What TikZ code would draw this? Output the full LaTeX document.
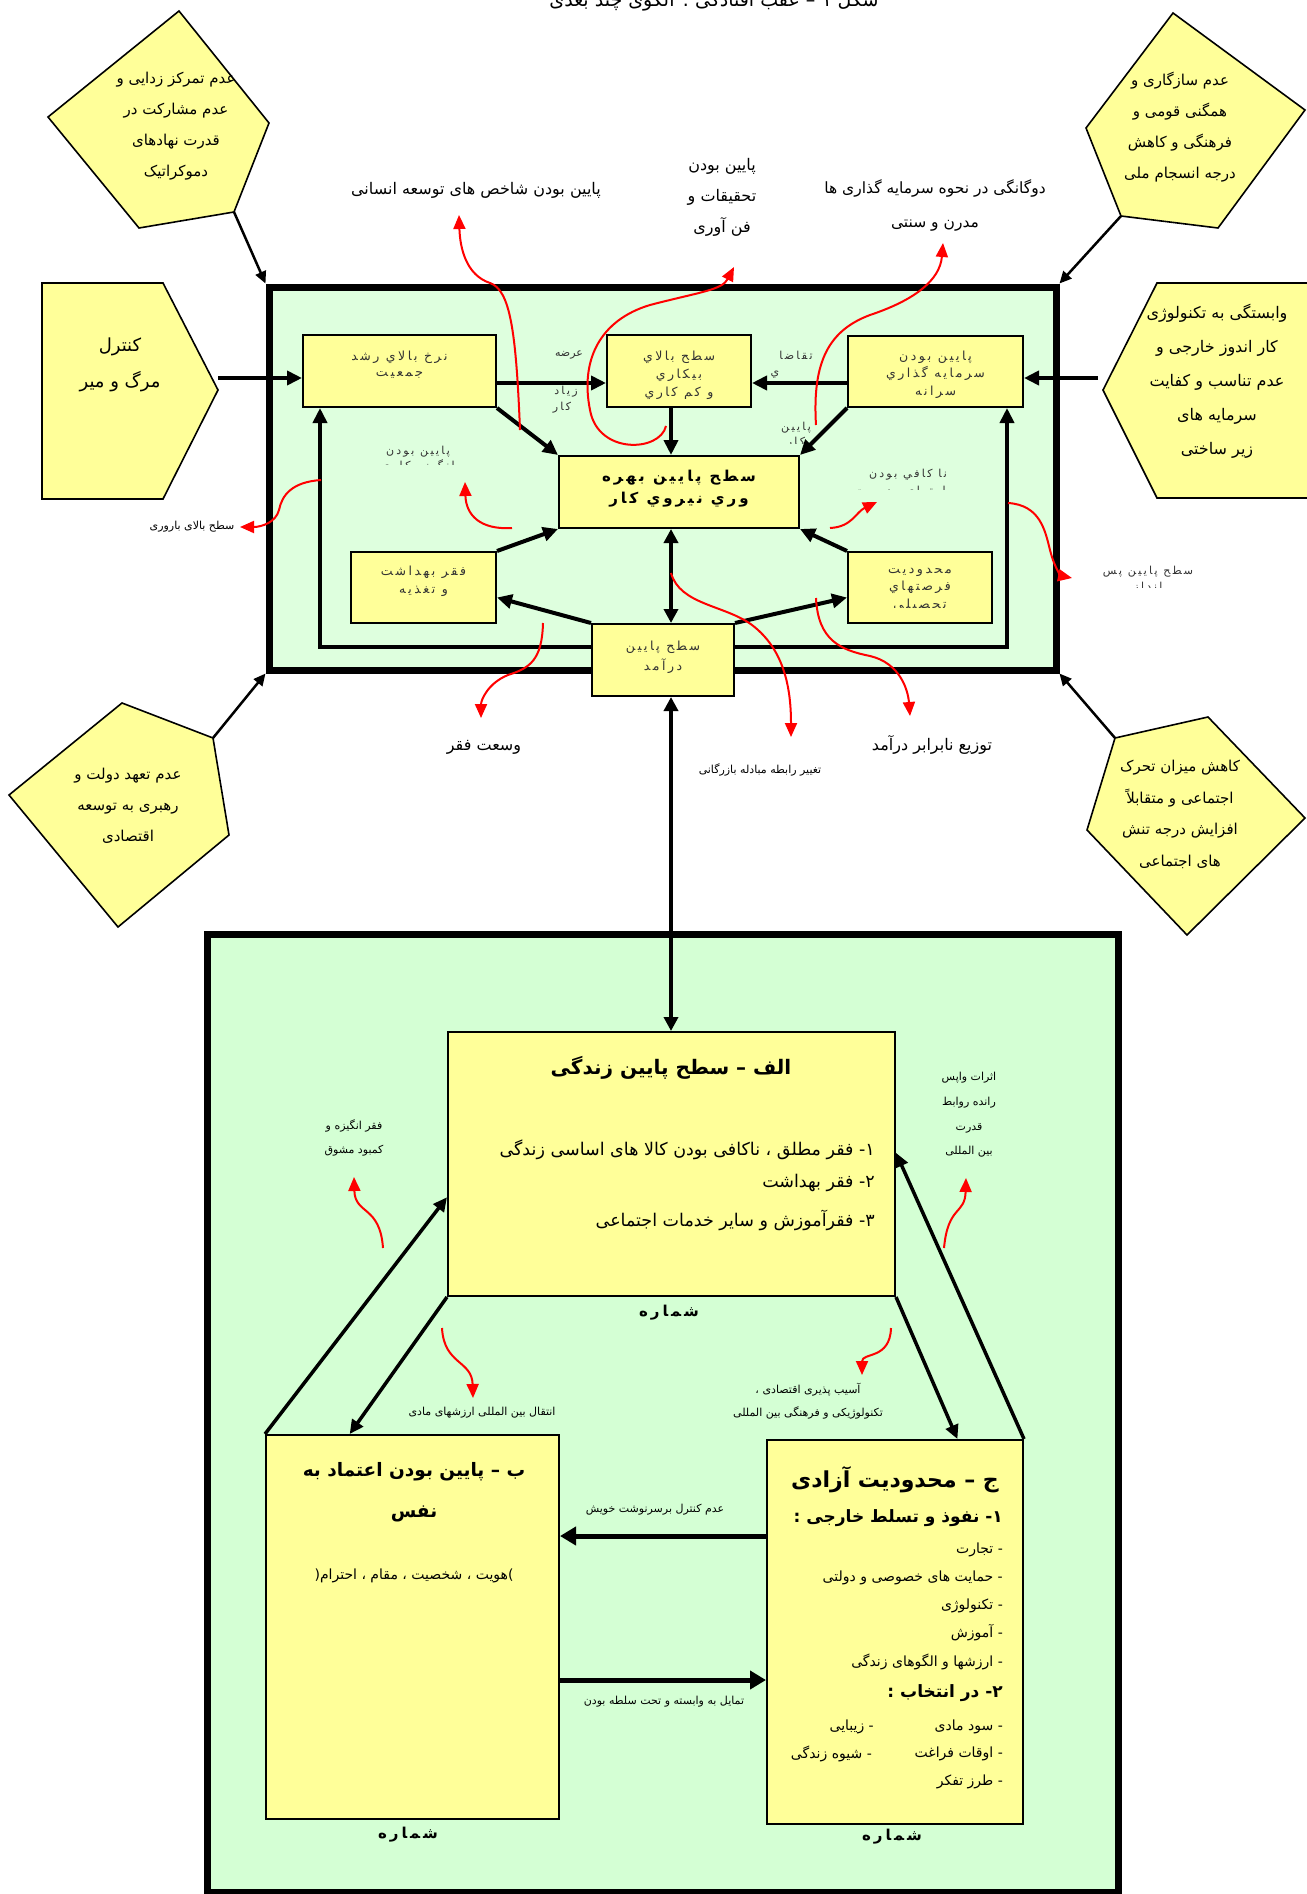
\documentclass[tikz,border=0pt]{standalone}
\usepackage{fontspec}
\usetikzlibrary{arrows.meta,calc}
\TeXXeTstate=1
\newfontfamily\arabicfont[Script=Arabic]{DejaVu Sans}
\newfontfamily\spacedfont[Script=Arabic,LetterSpace=20]{DejaVu Sans}
\newcommand\fa[1]{{\arabicfont\beginR#1\endR}}
\newcommand\fsp[1]{{\spacedfont\beginR#1\endR}}
\definecolor{yel}{RGB}{255,255,153}
\definecolor{grnA}{RGB}{222,255,222}
\definecolor{grnB}{RGB}{212,255,212}
\definecolor{txtg}{RGB}{50,50,50}
\begin{document}
\begin{tikzpicture}[x=1pt,y=-1pt,
  ybox/.style={draw, line width=2pt, fill=yel, inner sep=0pt},
  bigbox/.style={draw, line width=7pt, inner sep=0pt},
  pent/.style={draw, line width=1.6pt, fill=yel, line join=miter},
  ptxt/.style={align=center, inner sep=0pt, font=\fontsize{15}{31}\selectfont},
  btxt/.style={align=center, inner sep=0pt, text=txtg, font=\fontsize{12}{17}\selectfont},
  slbl/.style={align=center, inner sep=0pt, text=txtg, font=\fontsize{11}{16}\selectfont},
  lbl/.style={align=center, inner sep=0pt, font=\fontsize{16}{33}\selectfont},
  small/.style={align=center, inner sep=0pt, font=\fontsize{11}{24}\selectfont},
  itm/.style={anchor=east, inner sep=0pt, font=\fontsize{14}{17}\selectfont},
  arr/.style={line width=4pt, -{Triangle[length=15pt,width=14pt]}},
  dbl/.style={line width=3.5pt, {Triangle[length=14pt,width=14pt]}-{Triangle[length=14pt,width=14pt]}},
  parr/.style={line width=2.5pt, -{Triangle[length=12pt,width=11pt]}},
  larr/.style={line width=3.5pt, -{Triangle[length=14pt,width=13pt]}},
  barr/.style={line width=5pt, -{Triangle[length=16pt,width=18pt]}},
  rarr/.style={red, line width=2pt, -{Triangle[length=14pt,width=12pt]}}
]
\useasboundingbox (0,0) rectangle (1306,1894);

% ---------- title (cut by the page top) ----------
\node[anchor=base, inner sep=0pt, font=\fontsize{19}{22}\selectfont] (title) at (714,7) {\fa{شکل ۱ – عقب افتادگی : الگوی چند بعدی}};

% ---------- big frames ----------
\node[bigbox, fill=grnA, minimum width=787pt, minimum height=383pt] (OB) at (662.5,478.5) {};
\node[bigbox, fill=grnB, minimum width=911pt, minimum height=958pt] (BB) at (662.5,1413) {};

% ---------- outside shapes ----------
\draw[pent] (179,11) -- (269,123) -- (234,212) coordinate (tlp) -- (139,228) -- (48,117) -- cycle;
\node[ptxt] (tlt) at (176,126.5) {\fa{عدم تمرکز زدایی و}\\\fa{عدم مشارکت در}\\\fa{قدرت نهادهای}\\\fa{دموکراتیک}};

\draw[pent] (1173,13) -- (1305,110) -- (1218,228) -- (1121,216) coordinate (trp) -- (1086,128) -- cycle;
\node[ptxt] (trt) at (1180,127.5) {\fa{عدم سازگاری و}\\\fa{همگنی قومی و}\\\fa{فرهنگی و کاهش}\\\fa{درجه انسجام ملی}};

\draw[pent] (42,283) -- (163,283) -- (218,390) -- (163,499) -- (42,499) -- cycle;
\coordinate (ctl) at (218,378);
\node[ptxt, font=\fontsize{18}{36}\selectfont] (ctt) at (120,365) {\fa{کنترل}\\\fa{مرگ و میر}};

\draw[pent] (1157,283) -- (1314,283) -- (1314,498) -- (1157,498) -- (1103,390) -- cycle;
\coordinate (hxl) at (1098,378);
\node[ptxt, font=\fontsize{16}{34}\selectfont] (hxt) at (1217,381) {\fa{وابستگی به تکنولوژی}\\\fa{کار اندوز خارجی و}\\\fa{عدم تناسب و کفایت}\\\fa{سرمایه های}\\\fa{زیر ساختی}};

\draw[pent] (122,703) -- (213,738) coordinate (blp) -- (229,835) -- (118,927) -- (9,795) -- cycle;
\node[ptxt] (blt) at (128,806) {\fa{عدم تعهد دولت و}\\\fa{رهبری به توسعه}\\\fa{اقتصادی}};

\draw[pent] (1208,717) -- (1305,818) -- (1187,935) -- (1087,830) -- (1115,738) coordinate (brp) -- cycle;
\node[ptxt, font=\fontsize{15}{31.7}\selectfont] (brt) at (1180,814.5) {\fa{کاهش میزان تحرک}\\\fa{اجتماعی و متقابلاً}\\\fa{افزایش درجه تنش}\\\fa{های اجتماعی}};

\draw[parr] (tlp) -- (OB.north west);
\draw[parr] (trp) -- (OB.north east);
\draw[parr] (blp) -- (OB.south west);
\draw[parr] (brp) -- (OB.south east);

% ---------- top outside labels ----------
\node[lbl] (l1) at (476,190) {\fa{پایین بودن شاخص های توسعه انسانی}};
\node[lbl, font=\fontsize{16}{31}\selectfont] (l2) at (722,197) {\fa{پایین بودن}\\\fa{تحقیقات و}\\\fa{فن آوری}};
\node[lbl, font=\fontsize{15.5}{34}\selectfont] (l3) at (935,205) {\fa{دوگانگی در نحوه سرمایه گذاری ها}\\\fa{مدرن و سنتی}};
\node[small, font=\fontsize{11}{14}\selectfont] (l4) at (192,527) {\fa{سطح بالای باروری}};
\begin{scope}
  \clip (1080,555) rectangle (1230,587);
  \node[slbl] (l5) at (1148,580) {\fsp{سطح پايين پس}\\\fsp{انداز}};
\end{scope}
\node[lbl, font=\fontsize{16}{20}\selectfont] (l6) at (484,747) {\fa{وسعت فقر}};
\node[small] (l7) at (760,770) {\fa{تغییر رابطه مبادله بازرگانی}};
\node[lbl, font=\fontsize{16}{20}\selectfont] (l8) at (932,745) {\fa{توزیع نابرابر درآمد}};

% ---------- top boxes ----------
\node[ybox, minimum width=193pt, minimum height=72pt] (A) at (399.5,371) {};
\node[ybox, minimum width=144pt, minimum height=72pt] (B) at (679,371) {};
\node[ybox, minimum width=175pt, minimum height=71pt] (C) at (935.5,371.5) {};
\node[ybox, minimum width=240pt, minimum height=72pt] (D) at (679,492) {};
\node[ybox, minimum width=145pt, minimum height=71pt] (E) at (423.5,587.5) {};
\node[ybox, minimum width=144pt, minimum height=71pt] (F) at (920,587.5) {};
\node[ybox, minimum width=142pt, minimum height=72pt] (G) at (663,660) {};

\node[btxt, font=\fontsize{12.5}{16}\selectfont] (At) at (399.5,365) {\fsp{نرخ بالاي رشد}\\\fsp{جمعيت}};
\node[btxt, font=\fontsize{12.5}{18}\selectfont] (Bt) at (679,375) {\fsp{سطح بالاي}\\\fsp{بيكاري}\\\fsp{و كم كاري}};
\node[btxt, font=\fontsize{12.5}{17.5}\selectfont] (Ct) at (935.5,374.5) {\fsp{پايين بودن}\\\fsp{سرمايه گذاري}\\\fsp{سرانه}};
\node[btxt, text=black, font=\bfseries\fontsize{15}{22}\selectfont] (Dt) at (679,489) {\fsp{سطح پايين بهره}\\\fsp{وري نيروي كار}};
\node[btxt, font=\fontsize{12.5}{18}\selectfont] (Et) at (423.5,581) {\fsp{فقر بهداشت}\\\fsp{و تغذيه}};
\begin{scope}
  \clip (850,555) rectangle (990,607);
  \node[btxt, font=\fontsize{12.5}{17.5}\selectfont] (Ft) at (920,589.5) {\fsp{محدوديت}\\\fsp{فرصتهاي}\\\fsp{تحصيلي}};
\end{scope}
\node[btxt, font=\fontsize{12.5}{20}\selectfont] (Gt) at (663,657) {\fsp{سطح پايين}\\\fsp{درآمد}};

% inner labels
\node[slbl] (k1) at (569,355) {\fa{عرضه}};
\node[slbl] (k2) at (566,392) {\fsp{زياد}};
\node[slbl] (k3) at (562,408) {\fsp{كار}};
\node[slbl] (k4) at (796,355) {\fsp{تقاضا}};
\node[slbl] (k5) at (775,375) {\fsp{ي}};
\begin{scope}
  \clip (765,415) rectangle (835,443);
  \node[slbl, font=\fontsize{11}{15}\selectfont] (k6) at (796,435.5) {\fsp{پايين}\\\fsp{كار}};
\end{scope}
\begin{scope}
  \clip (330,440) rectangle (505,464);
  \node[slbl, font=\fontsize{11}{15}\selectfont] (k7) at (418,459.5) {\fsp{پايين بودن}\\\fsp{انگيزه كاري}};
\end{scope}
\begin{scope}
  \clip (820,462) rectangle (1000,489);
  \node[slbl, font=\fontsize{11}{17}\selectfont] (k8) at (908,483.5) {\fsp{نا كافي بودن}\\\fsp{مهارتهاي مديريت}};
\end{scope}

% ---------- top connectors ----------
\coordinate (h1) at (0,383);
\coordinate (vx) at (671,0);
\coordinate (ly) at (0,647);
\coordinate (lx) at (320,0);
\coordinate (rx) at (1007,0);
\draw[arr] (ctl) -- (A.west |- ctl);
\draw[arr] (hxl) -- (C.east |- hxl);
\draw[arr] (A.east |- h1) -- (B.west |- h1);
\draw[arr] (C.west |- h1) -- (B.east |- h1);
\draw[arr] (B.south -| vx) -- (D.north -| vx);
\draw[arr] (A.south east) -- (D.north west);
\draw[arr] (C.south west) -- (D.north east);
\draw[arr] (E.north east) -- (D.south west);
\draw[arr] (F.north west) -- (D.south east);
\draw[dbl] (D.south -| vx) -- (G.north -| vx);
\draw[arr] (G.north west) -- ($(E.east)+(0,10)$);
\draw[arr] (G.north east) -- ($(F.west)+(0,10)$);
\draw[arr] (G.west |- ly) -| (A.south -| lx);
\draw[arr] (G.east |- ly) -| (C.south -| rx);

% ---------- lower boxes ----------
\node[ybox, minimum width=447pt, minimum height=264pt] (Al) at (671.5,1164) {};
\node[ybox, minimum width=293pt, minimum height=384pt] (Be) at (412.5,1627) {};
\node[ybox, minimum width=256pt, minimum height=384pt] (Ji) at (895,1632) {};

\draw[dbl] (G.south -| vx) -- (Al.north -| vx);

\node[inner sep=0pt, font=\bfseries\fontsize{20}{26}\selectfont] (Alt) at (671,1068) {\fa{الف – سطح پایین زندگی}};
\node[itm, font=\fontsize{17.5}{20}\selectfont] (Al1) at (875,1150) {\fa{۱- فقر مطلق ، ناکافی بودن کالا های اساسی زندگی}};
\node[itm, font=\fontsize{17.5}{20}\selectfont] (Al2) at (875,1183) {\fa{۲- فقر بهداشت}};
\node[itm, font=\fontsize{17.5}{20}\selectfont] (Al3) at (875,1220) {\fa{۳- فقرآموزش و سایر خدمات اجتماعی}};
\node[inner sep=0pt, font=\bfseries\fontsize{15}{18}\selectfont] (n1) at (669,1313) {\fsp{شماره}};

\node[align=center, inner sep=0pt, font=\bfseries\fontsize{18.5}{41}\selectfont] (Bet) at (414,1492.5) {\fa{ب – پایین بودن اعتماد به}\\\fa{نفس}};
\node[inner sep=0pt, font=\fontsize{14}{17}\selectfont] (Bes) at (414,1576) {{\arabicfont(}\fa{هویت ، شخصیت ، مقام ، احترام}{\arabicfont)}};
\node[inner sep=0pt, font=\bfseries\fontsize{15}{18}\selectfont] (n2) at (408,1835) {\fsp{شماره}};

\node[itm, font=\bfseries\fontsize{22}{26}\selectfont] (Jit) at (999,1480) {\fa{ج – محدودیت آزادی}};
\node[itm, font=\bfseries\fontsize{17}{20}\selectfont] (Ji1) at (1003,1518) {\fa{۱-  نفوذ و تسلط خارجی :}};
\node[itm] (Ja) at (1003,1550) {\fa{- تجارت}};
\node[itm] (Jb) at (1003,1578) {\fa{- حمایت های خصوصی و دولتی}};
\node[itm] (Jc) at (1003,1606) {\fa{- تکنولوژی}};
\node[itm] (Jd) at (1003,1633) {\fa{- آموزش}};
\node[itm] (Je) at (1003,1662) {\fa{- ارزشها و الگوهای زندگی}};
\node[itm, font=\bfseries\fontsize{17}{20}\selectfont] (Ji2) at (1003,1693) {\fa{۲- در انتخاب :}};
\node[itm] (Jf) at (1003,1727) {\fa{- سود مادی}};
\node[itm] (Jg) at (874,1727) {\fa{- زیبایی}};
\node[itm] (Jh) at (1003,1754) {\fa{- اوقات فراغت}};
\node[itm] (Ji3) at (872,1754) {\fa{- شیوه زندگی}};
\node[itm] (Jj) at (1003,1782) {\fa{- طرز تفکر}};
\node[inner sep=0pt, font=\bfseries\fontsize{15}{18}\selectfont] (n3) at (892,1837) {\fsp{شماره}};

% lower labels
\node[small] (m1) at (354,1138) {\fa{فقر انگیزه و}\\\fa{کمبود مشوق}};
\node[small, font=\fontsize{11}{24.7}\selectfont] (m2) at (969,1115) {\fa{اثرات واپس}\\\fa{رانده روابط}\\\fa{قدرت}\\\fa{بین المللی}};
\node[small] (m3) at (482,1413) {\fa{انتقال بین المللی ارزشهای مادی}};
\node[small, font=\fontsize{11}{23}\selectfont] (m4) at (808,1401) {\fa{آسیب پذیری اقتصادی ،}\\\fa{تکنولوژیکی و فرهنگی بین المللی}};
\node[small] (m5) at (655,1510) {\fa{عدم کنترل برسرنوشت خویش}};
\node[small] (m6) at (664,1702) {\fa{تمایل به وابسته و تحت سلطه بودن}};

% lower connectors
\coordinate (h2) at (0,1536);
\coordinate (h3) at (0,1680);
\draw[larr] (Al.south west) -- ($(Be.north west)!0.287!(Be.north east)$);
\draw[larr] (Be.north west) -- ($(Al.south west)!0.375!(Al.north west)$);
\draw[larr] (Al.south east) -- ($(Ji.north west)!0.742!(Ji.north east)$);
\draw[larr] (Ji.north east) -- ($(Al.south east)!0.542!(Al.north east)$);
\draw[barr] (Ji.west |- h2) -- (Be.east |- h2);
\draw[barr] (Be.east |- h3) -- (Ji.west |- h3);

% ---------- red arrows ----------
\coordinate (r1s) at (520,430);  \coordinate (r1e) at (459,215);
\draw[rarr] (r1s) .. controls (516,330) and (510,290) .. (490,283) .. controls (466,275) and (460,248) .. (r1e);
\coordinate (r2s) at (666,426);  \coordinate (r2e) at (734,267);
\draw[rarr] (r2s) .. controls (660,452) and (598,455) .. (590,410) .. controls (580,360) and (600,320) .. (650,305) .. controls (700,292) and (722,290) .. (r2e);
\coordinate (r3s) at (816,425);  \coordinate (r3e) at (943,243);
\draw[rarr] (r3s) .. controls (812,360) and (830,330) .. (870,315) .. controls (915,300) and (940,280) .. (r3e);
\coordinate (r4s) at (321,480);  \coordinate (r4e) at (240,527);
\draw[rarr] (r4s) .. controls (292,482) and (282,495) .. (279,510) .. controls (276,522) and (262,527) .. (r4e);
\coordinate (r5s) at (1008,503); \coordinate (r5e) at (1072,578);
\draw[rarr] (r5s) .. controls (1040,505) and (1045,530) .. (1050,550) .. controls (1055,570) and (1062,576) .. (r5e);
\coordinate (r6s) at (512,528);  \coordinate (r6e) at (465,482);
\draw[rarr] (r6s) .. controls (480,530) and (466,515) .. (r6e);
\coordinate (r7s) at (830,528);  \coordinate (r7e) at (877,502);
\draw[rarr] (r7s) .. controls (852,527) and (856,512) .. (r7e);
\coordinate (r8s) at (543,623);  \coordinate (r8e) at (481,718);
\draw[rarr] (r8s) .. controls (542,660) and (530,668) .. (508,675) .. controls (488,683) and (481,700) .. (r8e);
\coordinate (r9s) at (671,573);  \coordinate (r9e) at (791,737);
\draw[rarr] (r9s) .. controls (680,605) and (725,605) .. (752,625) .. controls (785,650) and (791,690) .. (r9e);
\coordinate (r10s) at (816,598); \coordinate (r10e) at (910,716);
\draw[rarr] (r10s) .. controls (818,640) and (840,650) .. (870,656) .. controls (900,663) and (908,690) .. (r10e);
\coordinate (r11s) at (383,1248); \coordinate (r11e) at (354,1177);
\draw[rarr] (r11s) .. controls (380,1205) and (355,1215) .. (r11e);
\coordinate (r12s) at (944,1248); \coordinate (r12e) at (966,1178);
\draw[rarr] (r12s) .. controls (948,1205) and (965,1215) .. (r12e);
\coordinate (r13s) at (442,1328); \coordinate (r13e) at (473,1398);
\draw[rarr] (r13s) .. controls (444,1365) and (472,1360) .. (r13e);
\coordinate (r14s) at (891,1328); \coordinate (r14e) at (862,1375);
\draw[rarr] (r14s) .. controls (890,1360) and (862,1352) .. (r14e);
\end{tikzpicture}
\end{document}
